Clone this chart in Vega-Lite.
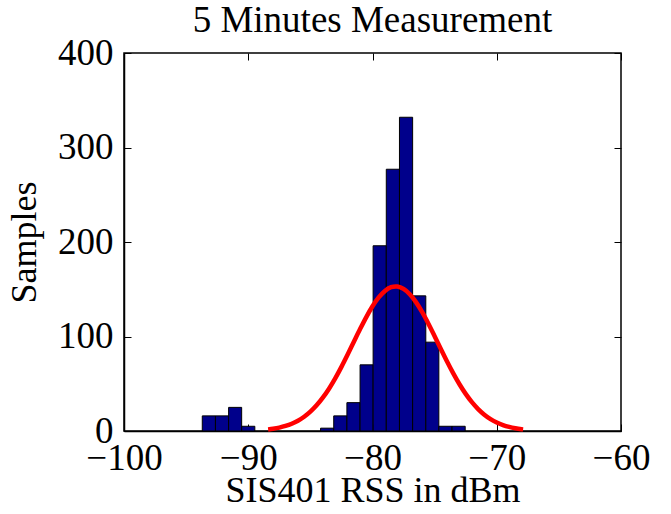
{
  "$schema": "https://vega.github.io/schema/vega-lite/v6.json",
  "autosize": "none",
  "width": 497,
  "height": 378,
  "padding": {"left": 124, "top": 53, "right": 50, "bottom": 83},
  "background": "white",
  "config": {
    "font": "Liberation Serif",
    "view": {"stroke": "black", "strokeWidth": 1.5},
    "axis": {"grid": false, "domainColor": "black", "tickColor": "black", "labelColor": "black", "titleColor": "black", "labelFont": "Liberation Serif", "titleFont": "Liberation Serif", "labelFontSize": 37, "titleFontSize": 36, "titleFontWeight": "normal", "tickSize": -7, "domainWidth": 1.5}
  },
  "title": {"text": "5 Minutes Measurement", "font": "Liberation Serif", "fontSize": 37, "fontWeight": "normal", "color": "black", "offset": -6, "anchor": "middle"},
  "datasets": {
    "bins": [
      {"start": -93.70, "end": -92.64, "count": 16},
      {"start": -92.64, "end": -91.58, "count": 16},
      {"start": -91.58, "end": -90.53, "count": 25},
      {"start": -90.53, "end": -89.47, "count": 5},
      {"start": -84.18, "end": -83.12, "count": 3},
      {"start": -83.12, "end": -82.06, "count": 16},
      {"start": -82.06, "end": -81.00, "count": 30},
      {"start": -81.00, "end": -79.95, "count": 70},
      {"start": -79.95, "end": -78.89, "count": 196},
      {"start": -78.89, "end": -77.83, "count": 277},
      {"start": -77.83, "end": -76.77, "count": 332},
      {"start": -76.77, "end": -75.71, "count": 143},
      {"start": -75.71, "end": -74.66, "count": 94},
      {"start": -74.66, "end": -73.60, "count": 5},
      {"start": -73.60, "end": -72.54, "count": 5}
    ],
    "fit": [
      {"x": -88.4, "y": 1.70}, {"x": -88.0, "y": 2.40}, {"x": -87.5, "y": 3.61}, {"x": -87.0, "y": 5.34},
      {"x": -86.5, "y": 7.71}, {"x": -86.0, "y": 10.91}, {"x": -85.5, "y": 15.10}, {"x": -85.0, "y": 20.45},
      {"x": -84.5, "y": 27.15}, {"x": -84.0, "y": 35.25}, {"x": -83.5, "y": 44.80}, {"x": -83.0, "y": 55.72},
      {"x": -82.5, "y": 67.88}, {"x": -82.0, "y": 80.92}, {"x": -81.5, "y": 94.42}, {"x": -81.0, "y": 107.85},
      {"x": -80.5, "y": 120.58}, {"x": -80.0, "y": 131.96}, {"x": -79.5, "y": 141.37}, {"x": -79.0, "y": 148.24},
      {"x": -78.5, "y": 152.16}, {"x": -78.14, "y": 153.0}, {"x": -78.0, "y": 152.87}, {"x": -77.5, "y": 150.34},
      {"x": -77.0, "y": 144.72}, {"x": -76.5, "y": 136.38}, {"x": -76.0, "y": 125.80}, {"x": -75.5, "y": 113.57},
      {"x": -75.0, "y": 100.38}, {"x": -74.5, "y": 86.83}, {"x": -74.0, "y": 73.53}, {"x": -73.5, "y": 60.94},
      {"x": -73.0, "y": 49.45}, {"x": -72.5, "y": 39.27}, {"x": -72.0, "y": 30.52}, {"x": -71.5, "y": 23.22},
      {"x": -71.0, "y": 17.30}, {"x": -70.5, "y": 12.62}, {"x": -70.0, "y": 9.00}, {"x": -69.5, "y": 6.29},
      {"x": -69.0, "y": 4.30}, {"x": -68.5, "y": 2.88}, {"x": -68.0, "y": 1.89}, {"x": -67.88, "y": 1.70}
    ]
  },
  "layer": [
    {
      "data": {"name": "bins"},
      "mark": {"type": "bar", "color": "#00008b", "stroke": "black", "strokeWidth": 1},
      "encoding": {
        "x": {"field": "start", "type": "quantitative", "scale": {"domain": [-100, -60], "nice": false}, "axis": {"title": "SIS401 RSS in dBm", "values": [-100, -90, -80, -70, -60], "format": "d", "labelPadding": 16, "titlePadding": -3, "labelFlush": false}},
        "x2": {"field": "end"},
        "y": {"field": "count", "type": "quantitative", "scale": {"domain": [0, 400], "nice": false}, "axis": {"title": "Samples", "values": [0, 100, 200, 300, 400], "labelPadding": 18, "titlePadding": 14, "labelFlush": false}},
        "y2": {"datum": 0}
      }
    },
    {
      "data": {"name": "fit"},
      "mark": {"type": "line", "color": "#ff0000", "strokeWidth": 4.5, "interpolate": "monotone"},
      "encoding": {
        "x": {"field": "x", "type": "quantitative", "axis": {"orient": "top", "title": null, "labels": false, "domain": false, "values": [-100, -90, -80, -70, -60]}},
        "y": {"field": "y", "type": "quantitative", "axis": {"orient": "right", "title": null, "labels": false, "domain": false, "values": [0, 100, 200, 300, 400]}}
      }
    }
  ],
  "resolve": {"axis": {"x": "independent", "y": "independent"}}
}
